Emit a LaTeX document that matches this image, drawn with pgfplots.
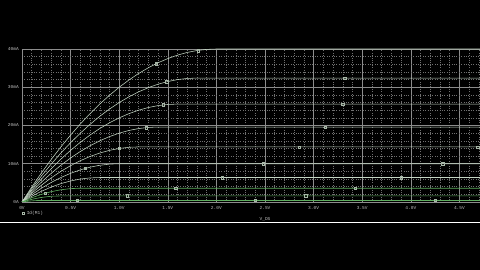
\documentclass[border=0pt]{standalone}
\usepackage{pgfplots}
\pgfplotsset{compat=1.18}
\usepackage{fontspec}
\setmainfont{Liberation Mono}
\definecolor{curve}{HTML}{C4D6C4}
\definecolor{curveg}{HTML}{5FAE5F}
\definecolor{mk}{HTML}{A8B8A8}
\definecolor{gmaj}{HTML}{8C8C8C}
\definecolor{gmin}{HTML}{707070}
\definecolor{txt}{HTML}{C0C0C0}
\begin{document}
\begin{tikzpicture}[x=1pt,y=1pt]
\useasboundingbox (0,0) rectangle (480,270);
\clip (0,0) rectangle (480,270);
\fill[black] (0,0) rectangle (480,270);
\draw[white, line width=1.6pt] (0,47.5) -- (480,47.5);
\begin{axis}[
  scale only axis, width=486pt, height=153pt, at={(22pt,68pt)}, anchor=south west,
  xmin=0, xmax=5, ymin=0, ymax=40,
  xtick={0,0.5,1,1.5,2,2.5,3,3.5,4,4.5,5},
  xticklabels={0V,0.5V,1.0V,1.5V,2.0V,2.5V,3.0V,3.5V,4.0V,4.5V,{}},
  ytick={0,10,20,30,40},
  yticklabels={0A,10mA,20mA,30mA,40mA},
  minor x tick num=4, minor y tick num=4,
  grid=both,
  major grid style={gmaj, line width=0.5pt},
  minor grid style={gmin, dotted, line width=0.5pt},
  major tick length=0pt, minor tick length=0pt,
  axis line style={gmaj, line width=0.6pt},
  tick label style={txt, font=\fontsize{4.5}{5}\selectfont},
  xticklabel style={inner sep=0pt, anchor=north, yshift=-4pt},
  yticklabel style={inner sep=0pt, anchor=east, xshift=-3pt},
  xlabel={V\_DS},
  xlabel style={txt, font=\fontsize{4.5}{5}\selectfont, inner sep=0pt, at={(axis description cs:0.5,0)}, anchor=center, yshift=-17pt},
  legend image code/.code={\draw[#1] plot coordinates {(0pt,0pt)};},
  legend style={at={(axis description cs:0,-0.075)}, anchor=west, draw=none, fill=none,
    inner sep=0pt, outer sep=0pt, text=txt, font=\fontsize{4.5}{5}\selectfont,
    nodes={inner sep=0.6pt}},
  legend cell align=left,
]
\addlegendimage{only marks, mark=square, mark size=1.2pt, color=mk, line width=0.4pt}
\addlegendentry{\hspace{1.8pt}Id(M1)}
% k = 10
\addplot[curve, line width=0.55pt, forget plot] coordinates {(0,0) (0.1,3.9) (0.2,7.6) (0.3,11.1) (0.4,14.4) (0.5,17.5) (0.6,20.4) (0.7,23.1) (0.8,25.6) (0.9,27.9) (1.0,30) (1.1,31.9) (1.2,33.6) (1.3,35.1) (1.4,36.4) (1.5,37.5) (1.6,38.4) (1.7,39.1) (1.8,39.6) (1.9,39.9) (2.0,40) (5,40)};
% k = 9
\addplot[curve, line width=0.55pt, forget plot] coordinates {(0,0) (0.1,3.5) (0.2,6.8) (0.3,9.9) (0.4,12.8) (0.5,15.5) (0.6,18) (0.7,20.3) (0.8,22.4) (0.9,24.3) (1.0,26) (1.1,27.5) (1.2,28.8) (1.3,29.9) (1.4,30.8) (1.5,31.5) (1.6,32) (1.7,32.3) (1.8,32.4) (5,32.4)};
% k = 8
\addplot[curve, line width=0.55pt, forget plot] coordinates {(0,0) (0.1,3.1) (0.2,6.0) (0.3,8.7) (0.4,11.2) (0.5,13.5) (0.6,15.6) (0.7,17.5) (0.8,19.2) (0.9,20.7) (1.0,22) (1.1,23.1) (1.2,24) (1.3,24.7) (1.4,25.2) (1.5,25.5) (1.6,25.6) (5,25.6)};
% k = 7
\addplot[curve, line width=0.55pt, forget plot] coordinates {(0,0) (0.1,2.7) (0.2,5.2) (0.3,7.5) (0.4,9.6) (0.5,11.5) (0.6,13.2) (0.7,14.7) (0.8,16.0) (0.9,17.1) (1.0,18) (1.1,18.7) (1.2,19.2) (1.3,19.5) (1.4,19.6) (5,19.6)};
% k = 6
\addplot[curve, line width=0.55pt, forget plot] coordinates {(0,0) (0.1,2.3) (0.2,4.4) (0.3,6.3) (0.4,8.0) (0.5,9.5) (0.6,10.8) (0.7,11.9) (0.8,12.8) (0.9,13.5) (1.0,14) (1.1,14.3) (1.2,14.4) (5,14.4)};
% k = 5
\addplot[curve, line width=0.55pt, forget plot] coordinates {(0,0) (0.1,1.9) (0.2,3.6) (0.3,5.1) (0.4,6.4) (0.5,7.5) (0.6,8.4) (0.7,9.1) (0.8,9.6) (0.9,9.9) (1.0,10) (5,10)};
% k = 4
\addplot[curve, line width=0.55pt, forget plot] coordinates {(0,0) (0.1,1.5) (0.2,2.8) (0.3,3.9) (0.4,4.8) (0.5,5.5) (0.6,6.0) (0.7,6.3) (0.8,6.4) (5,6.4)};
% k = 3
\addplot[curveg, line width=0.6pt, forget plot] coordinates {(0,0) (0.1,1.1) (0.2,2.0) (0.3,2.7) (0.4,3.2) (0.5,3.5) (0.6,3.6) (5,3.6)};
% k = 2
\addplot[curveg, line width=0.6pt, forget plot] coordinates {(0,0) (0.1,0.7) (0.2,1.2) (0.3,1.5) (0.4,1.6) (5,1.6)};
% k = 1
\addplot[curveg, line width=0.6pt, forget plot] coordinates {(0,0) (0.05,0.18) (0.1,0.3) (0.15,0.38) (0.2,0.4) (5,0.4)};
% k = 0
\addplot[curveg, line width=0.8pt, forget plot] coordinates {(0,0) (5,0)};
% markers
\addplot[only marks, mark=square, mark size=1.2pt, mk, line width=0.4pt, forget plot] coordinates {
(1.38,36.2) (1.81,39.6)
(1.49,31.4) (3.32,32.4)
(1.45,25.4) (3.30,25.6)
(1.28,19.4) (3.12,19.6)
(1.00,14.0) (2.85,14.4) (4.69,14.4)
(0.65,8.8) (2.48,10) (4.33,10)
(2.06,6.4) (3.90,6.4)
(0.24,2.3) (1.58,3.6) (3.43,3.6)
(1.08,1.6) (2.92,1.6)
(0.57,0.4) (2.40,0.4) (4.25,0.4)};
\end{axis}
\end{tikzpicture}
\end{document}
